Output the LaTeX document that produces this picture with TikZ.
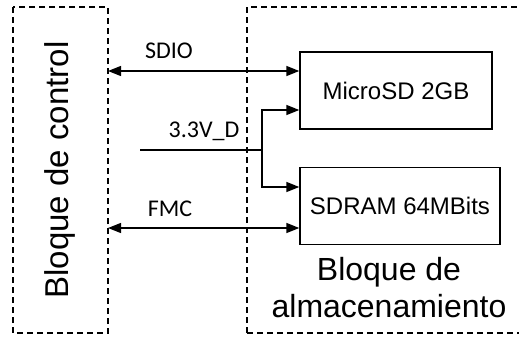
\documentclass[tikz,border=0pt]{standalone}
\usepackage{fontspec}
\setmainfont{Liberation Sans}
\newfontfamily\lblfont{Carlito}
\usetikzlibrary{arrows.meta}
\begin{document}
\begin{tikzpicture}[x=1pt,y=-1pt,
  dashbox/.style={draw,line width=1.4pt,dash pattern=on 6pt off 4pt},
  blk/.style={draw,line width=1.4pt,minimum width=#1,minimum height=77pt,inner sep=0pt,font=\fontsize{24}{28}\selectfont},
  conn/.style={line width=1.4pt},
  tip/.style={-{Triangle[length=13pt,width=10pt]}},
  lbl/.style={font=\lblfont\fontsize{24}{28}\selectfont,inner sep=0pt,anchor=base}]
\useasboundingbox (0,0) rectangle (519,337);
\draw[dashbox] (13,7) rectangle (108,333);
\draw[dashbox] (247,333) -- (247,7) -- (525,7);
\draw[dashbox] (247,333) -- (525,333);
\node[rotate=90,font=\fontsize{33}{38}\selectfont,inner sep=0pt] (ctl) at (60,170) {Bloque de control};
\node[align=center,font=\fontsize{32}{37}\selectfont,inner sep=0pt,anchor=base] (alm) at (389,317) {Bloque de\\almacenamiento};
\node[blk=192pt] (sd) at (396,90.5) {MicroSD 2GB};
\node[blk=200pt] (ram) at (400,206) {SDRAM 64MBits};
\coordinate (sdioL) at (108,71);
\coordinate (fmcL) at (108,228);
\coordinate (pwr) at (140,150);
\coordinate (br) at (262,150);
\draw[conn,{Triangle[length=13pt,width=10pt]}-{Triangle[length=13pt,width=10pt]}] (sdioL) -- (sdioL -| sd.west);
\draw[conn,{Triangle[length=13pt,width=10pt]}-{Triangle[length=13pt,width=10pt]}] (fmcL) -- (fmcL -| ram.west);
\draw[conn] (pwr) -- (br);
\draw[conn,tip] (br) -- (262,110) -- (262,110 -| sd.west);
\draw[conn,tip] (br) -- (262,187) -- (262,187 -| ram.west);
\node[lbl] (l1) at (169,59) {SDIO};
\node[lbl] (l2) at (204,137) {3.3V\_D};
\node[lbl] (l3) at (170,216) {FMC};
\end{tikzpicture}
\end{document}
